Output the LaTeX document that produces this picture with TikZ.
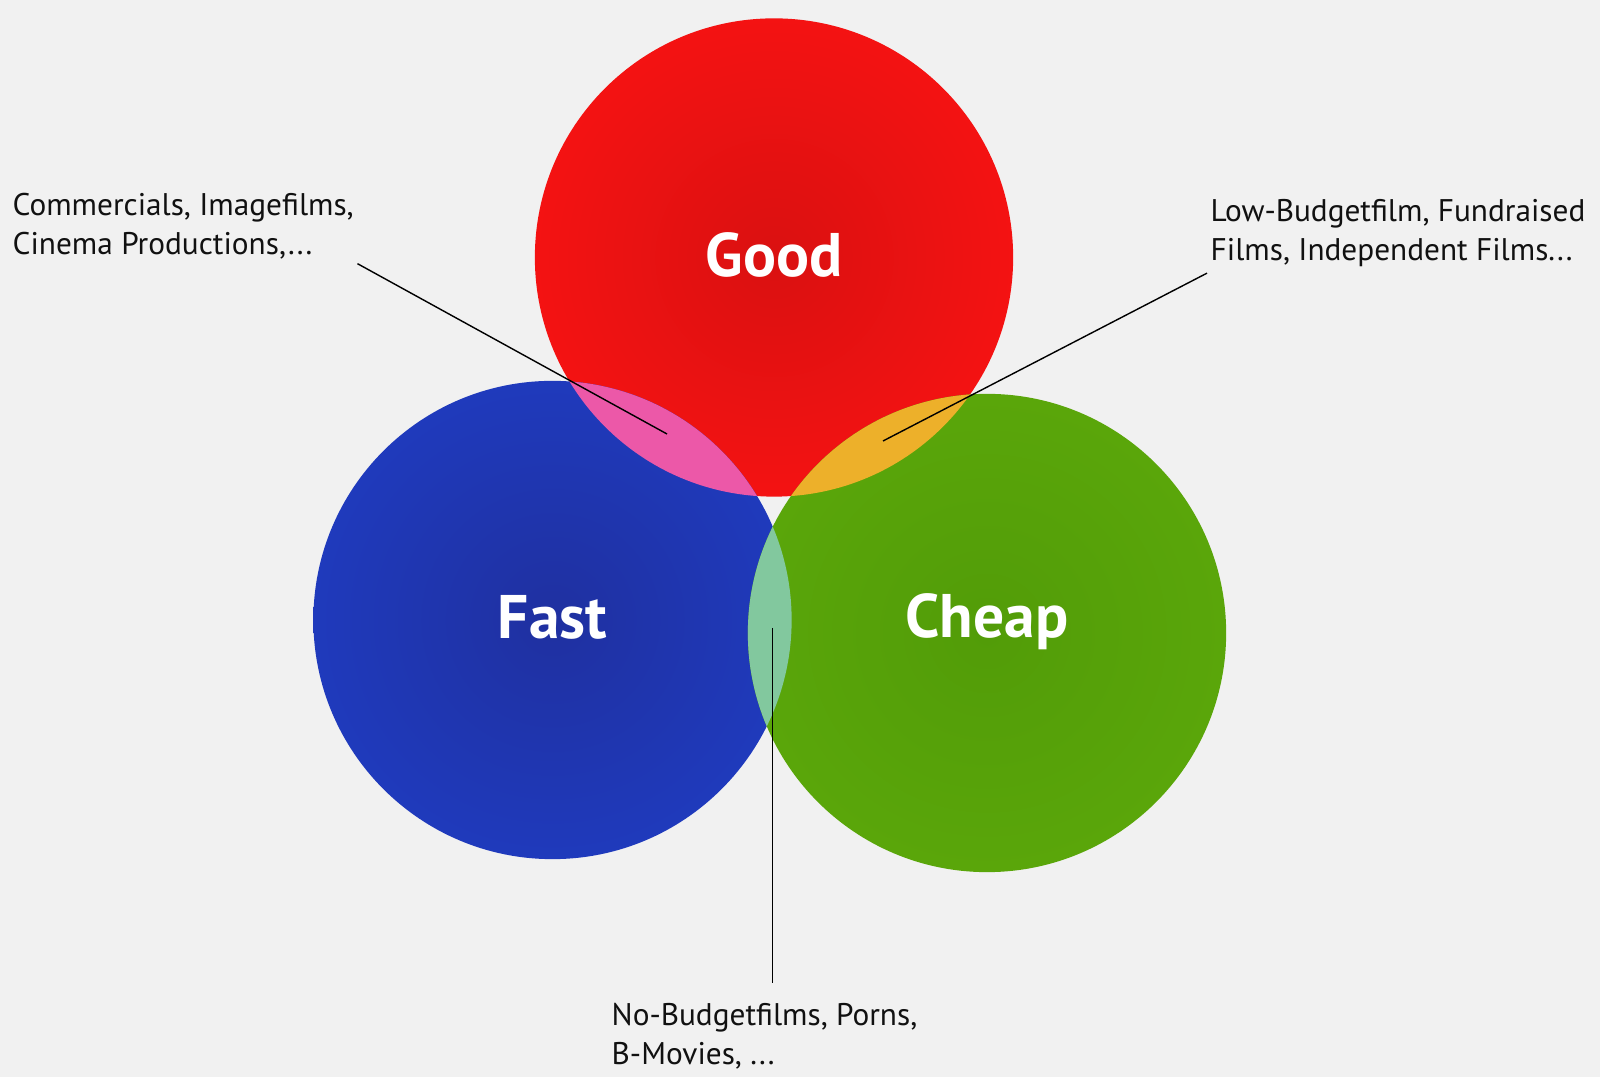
\documentclass[tikz,border=0pt]{standalone}
\usepackage{fontspec}
\setmainfont{PT Sans}
\usetikzlibrary{positioning}
\definecolor{paper}{HTML}{F1F1F1}
\definecolor{goodredin}{HTML}{DA1111}
\definecolor{goodredout}{HTML}{F41212}
\definecolor{fastbluein}{HTML}{1F30A0}
\definecolor{fastblueout}{HTML}{1F3ABC}
\definecolor{cheapgreenin}{HTML}{529C08}
\definecolor{cheapgreenout}{HTML}{5AA60A}
\definecolor{lenspink}{HTML}{EC58A8}
\definecolor{lensorange}{HTML}{EDB02A}
\definecolor{lensmint}{HTML}{82C89E}
\definecolor{ink}{HTML}{111111}
\def\rad{2.39cm}

\begin{document}
\begin{tikzpicture}[
    x=0.01cm, y=-0.01cm,
    blob/.style={circle, minimum size=4.78cm, inner sep=0pt},
    blobname/.style={anchor=base, inner sep=0pt, text=white, font=\fontsize{17.5}{20}\selectfont\bfseries},
    note/.style={align=left, anchor=north west, inner sep=0pt, text=ink, font=\fontsize{8.9}{10.9}\selectfont},
    leader/.style={black, line width=0.4pt}
]

    % Canvas
    \fill[paper] (0,0) rectangle (1600,1077);
    \useasboundingbox (0,0) rectangle (1600,1077);

    % Circles
    \node[blob, inner color=goodredin, outer color=goodredout] (good) at (774,257.5) {};
    \node[blob, inner color=fastbluein, outer color=fastblueout] (fast) at (552.5,620) {};
    \node[blob, inner color=cheapgreenin, outer color=cheapgreenout] (cheap) at (987,633) {};

    % Overlaps
    \begin{scope}
        \clip (good.center) circle[radius=\rad];
        \fill[lenspink] (fast.center) circle[radius=\rad];
        \fill[lensorange] (cheap.center) circle[radius=\rad];
    \end{scope}
    \begin{scope}
        \clip (fast.center) circle[radius=\rad];
        \fill[lensmint] (cheap.center) circle[radius=\rad];
    \end{scope}

    % Circle names
    \node[blobname] (goodname) at ([yshift=-0.19cm]good.center) {Good};
    \node[blobname] (fastname) at ([yshift=-0.18cm]fast.center) {Fast};
    \node[blobname] (cheapname) at ([yshift=-0.05cm]cheap.center) {Cheap};

    % Notes
    \node[note] (highend) at (12,193) {Commercials, Imagefilms,\\Cinema Productions,...};
    \node[note] (lowbudget) at (1210,199) {Low-Budgetfilm, Fundraised\\Films, Independent Films...};
    \node[note] (nobudget) at (611,1003) {No-Budgetfilms, Porns,\\B-Movies, ...};

    \coordinate (pinktip) at (667,434);
    \coordinate (orangetip) at (883,441);
    \coordinate (minttip) at (772.7,628);

    % Leaders
    \draw[leader] ([shift={(3,4)}]highend.south east) -- (pinktip);
    \draw[leader] ([shift={(-3,6)}]lowbudget.south west) -- (orangetip);
    \draw[leader] (minttip) -- ([yshift=0.20cm]minttip |- nobudget.north);

\end{tikzpicture}
\end{document}
